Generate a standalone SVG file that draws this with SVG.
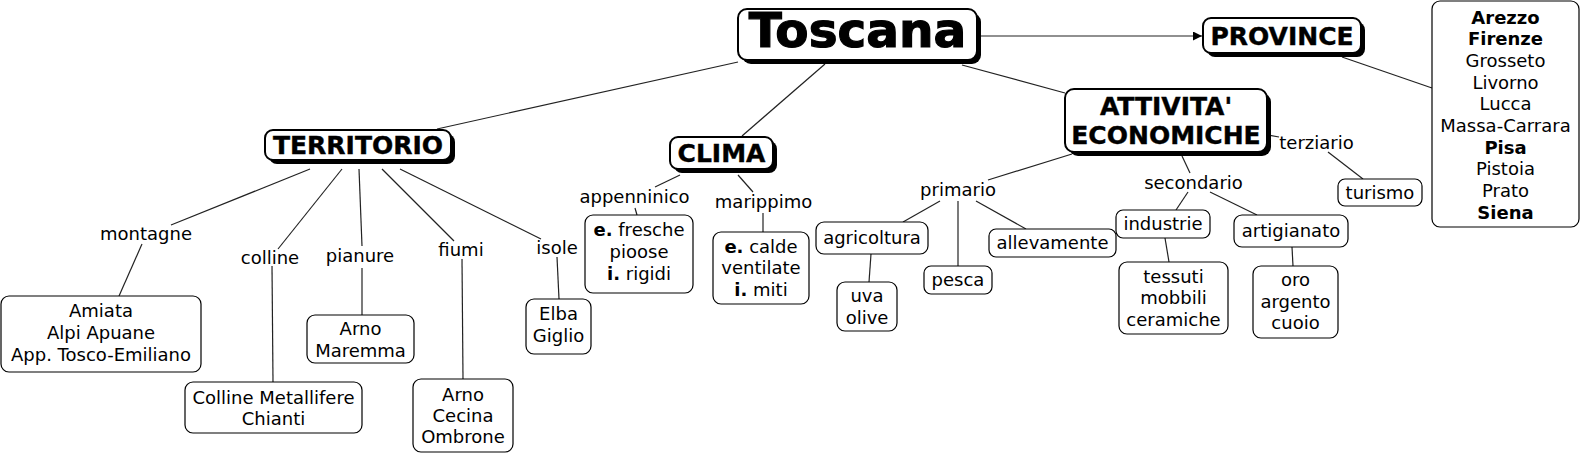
<svg xmlns="http://www.w3.org/2000/svg" width="1582" height="455" viewBox="0 0 1582 455">
<defs>
<marker id="arr" viewBox="0 0 10 10" refX="10" refY="5" markerWidth="9" markerHeight="9" markerUnits="userSpaceOnUse" orient="auto"><path d="M0,0 L10,5 L0,10 z" fill="#000"/></marker>
<style>
text{font-family:"DejaVu Sans","Liberation Sans",sans-serif;fill:#000;text-anchor:middle}
.t{font-size:18px}
.h{font-size:25px;font-weight:bold;stroke:#000;stroke-width:0.4}
.big{font-size:48.5px;font-weight:bold;stroke:#000;stroke-width:1.2}
.b{font-weight:bold}
.box{fill:#fff;stroke:#000;stroke-width:1.2}
.mbox{fill:#fff;stroke:#000;stroke-width:2}
.sh{fill:#000}
.c line{stroke:#222;stroke-width:1.2}
</style>
</defs>
<rect width="1582" height="455" fill="#fff"/>
<g class="c" id="connectors">
<line x1="738" y1="62" x2="437" y2="129"/>
<line x1="825" y1="64" x2="742" y2="136"/>
<line x1="962" y1="65" x2="1065" y2="93"/>
<line x1="979" y1="36" x2="1202" y2="36" marker-end="url(#arr)"/>
<line x1="1342" y1="57" x2="1432" y2="88"/>
<line x1="310" y1="169" x2="171" y2="225"/>
<line x1="142" y1="244" x2="119" y2="296"/>
<line x1="342" y1="169" x2="278" y2="249"/>
<line x1="272" y1="266" x2="273" y2="382"/>
<line x1="359" y1="169" x2="362" y2="246"/>
<line x1="362" y1="268" x2="362" y2="315"/>
<line x1="382" y1="169" x2="454" y2="241"/>
<line x1="462" y1="259" x2="463" y2="379"/>
<line x1="400" y1="169" x2="541" y2="239"/>
<line x1="557" y1="257" x2="559" y2="299"/>
<line x1="680" y1="175" x2="655" y2="187"/>
<line x1="635" y1="208" x2="637" y2="215"/>
<line x1="738" y1="175" x2="753" y2="192"/>
<line x1="763" y1="213" x2="763" y2="232"/>
<line x1="1072" y1="154" x2="988" y2="180"/>
<line x1="940" y1="201" x2="903" y2="222"/>
<line x1="871" y1="254" x2="869" y2="282"/>
<line x1="958" y1="201" x2="958" y2="266"/>
<line x1="976" y1="201" x2="1026" y2="229"/>
<line x1="1182" y1="156" x2="1190" y2="173"/>
<line x1="1188" y1="192" x2="1176" y2="210"/>
<line x1="1165" y1="238" x2="1169" y2="262"/>
<line x1="1210" y1="192" x2="1257" y2="215"/>
<line x1="1292" y1="247" x2="1293" y2="266"/>
<line x1="1268" y1="135" x2="1279" y2="137"/>
<line x1="1328" y1="152" x2="1363" y2="179"/>
</g>
<g id="toscana">
<rect class="sh" x="742" y="13" width="239" height="51" rx="9"/>
<rect class="mbox" x="738" y="9" width="239" height="51" rx="9"/>
<text class="big" x="857.5" y="47">Toscana</text>
</g>
<g id="province">
<rect class="sh" x="1207" y="22" width="158" height="35" rx="8"/>
<rect class="mbox" x="1203" y="18" width="158" height="35" rx="8"/>
<text class="h" x="1282" y="44.5">PROVINCE</text>
</g>
<g id="province-list">
<rect class="box" x="1432" y="1" width="147" height="226" rx="8"/>
<text class="t b" x="1505.5" y="23.5">Arezzo</text>
<text class="t b" x="1505.5" y="45.2">Firenze</text>
<text class="t" x="1505.5" y="66.9">Grosseto</text>
<text class="t" x="1505.5" y="88.6">Livorno</text>
<text class="t" x="1505.5" y="110.3">Lucca</text>
<text class="t" x="1505.5" y="132">Massa-Carrara</text>
<text class="t b" x="1505.5" y="153.7">Pisa</text>
<text class="t" x="1505.5" y="175.4">Pistoia</text>
<text class="t" x="1505.5" y="197.1">Prato</text>
<text class="t b" x="1505.5" y="218.8">Siena</text>
</g>
<g id="territorio">
<rect class="sh" x="269" y="134" width="186" height="30" rx="8"/>
<rect class="mbox" x="265" y="130" width="186" height="30" rx="8"/>
<text class="h" x="358" y="154">TERRITORIO</text>
</g>
<g id="clima">
<rect class="sh" x="674" y="141" width="103" height="32" rx="8"/>
<rect class="mbox" x="670" y="137" width="103" height="32" rx="8"/>
<text class="h" x="721.5" y="162">CLIMA</text>
</g>
<g id="attivita">
<rect class="sh" x="1069" y="93" width="202" height="63" rx="9"/>
<rect class="mbox" x="1065" y="89" width="202" height="63" rx="9"/>
<text class="h" x="1166" y="115">ATTIVITA'</text>
<text class="h" x="1166" y="144">ECONOMICHE</text>
</g>
<g id="labels">
<text class="t" x="146" y="239.5">montagne</text>
<text class="t" x="270" y="263.5">colline</text>
<text class="t" x="360" y="261.5">pianure</text>
<text class="t" x="461" y="255.5">fiumi</text>
<text class="t" x="557" y="253.5">isole</text>
<text class="t" x="634.5" y="202.5">appenninico</text>
<text class="t" x="763.5" y="207.5">marippimo</text>
<text class="t" x="958" y="195.5">primario</text>
<text class="t" x="1193.5" y="188.5">secondario</text>
<text class="t" x="1316.5" y="148.5">terziario</text>
</g>
<g id="montagne-box">
<rect class="box" x="1" y="296" width="200" height="76" rx="8"/>
<text class="t" x="101" y="317">Amiata</text>
<text class="t" x="101" y="339">Alpi Apuane</text>
<text class="t" x="101" y="361">App. Tosco-Emiliano</text>
</g>
<g id="colline-box">
<rect class="box" x="185" y="382" width="177" height="51" rx="8"/>
<text class="t" x="273.5" y="403.5">Colline Metallifere</text>
<text class="t" x="273.5" y="425">Chianti</text>
</g>
<g id="pianure-box">
<rect class="box" x="307" y="315" width="107" height="48" rx="8"/>
<text class="t" x="360.5" y="335">Arno</text>
<text class="t" x="360.5" y="357">Maremma</text>
</g>
<g id="fiumi-box">
<rect class="box" x="413" y="379" width="100" height="73" rx="8"/>
<text class="t" x="463" y="401">Arno</text>
<text class="t" x="463" y="422">Cecina</text>
<text class="t" x="463" y="443">Ombrone</text>
</g>
<g id="isole-box">
<rect class="box" x="526" y="299" width="65" height="55" rx="8"/>
<text class="t" x="558.5" y="320">Elba</text>
<text class="t" x="558.5" y="342">Giglio</text>
</g>
<g id="appenninico-box">
<rect class="box" x="585" y="215" width="108" height="78" rx="8"/>
<text class="t" x="639" y="236"><tspan class="b">e.</tspan> fresche</text>
<text class="t" x="639" y="258">pioose</text>
<text class="t" x="639" y="280"><tspan class="b">i.</tspan> rigidi</text>
</g>
<g id="marippimo-box">
<rect class="box" x="713" y="232" width="96" height="72" rx="8"/>
<text class="t" x="761" y="253"><tspan class="b">e.</tspan> calde</text>
<text class="t" x="761" y="274">ventilate</text>
<text class="t" x="761" y="296"><tspan class="b">i.</tspan> miti</text>
</g>
<g id="agricoltura">
<rect class="box" x="816" y="222" width="112" height="32" rx="8"/>
<text class="t" x="872" y="244">agricoltura</text>
</g>
<g id="uva-olive">
<rect class="box" x="837" y="282" width="60" height="49" rx="8"/>
<text class="t" x="867" y="302">uva</text>
<text class="t" x="867" y="324">olive</text>
</g>
<g id="pesca">
<rect class="box" x="924" y="266" width="68" height="28" rx="7"/>
<text class="t" x="958" y="286">pesca</text>
</g>
<g id="allevamente">
<rect class="box" x="989" y="229" width="127" height="28" rx="7"/>
<text class="t" x="1052.5" y="249">allevamente</text>
</g>
<g id="industrie">
<rect class="box" x="1116" y="210" width="94" height="28" rx="7"/>
<text class="t" x="1163" y="230">industrie</text>
</g>
<g id="tessuti">
<rect class="box" x="1119" y="262" width="109" height="72" rx="8"/>
<text class="t" x="1173.5" y="283">tessuti</text>
<text class="t" x="1173.5" y="304">mobbili</text>
<text class="t" x="1173.5" y="326">ceramiche</text>
</g>
<g id="artigianato">
<rect class="box" x="1234" y="215" width="114" height="32" rx="8"/>
<text class="t" x="1291" y="237">artigianato</text>
</g>
<g id="oro">
<rect class="box" x="1253" y="266" width="85" height="72" rx="8"/>
<text class="t" x="1295.5" y="286">oro</text>
<text class="t" x="1295.5" y="308">argento</text>
<text class="t" x="1295.5" y="329">cuoio</text>
</g>
<g id="turismo">
<rect class="box" x="1338" y="179" width="84" height="27" rx="7"/>
<text class="t" x="1380" y="198.5">turismo</text>
</g>
</svg>
